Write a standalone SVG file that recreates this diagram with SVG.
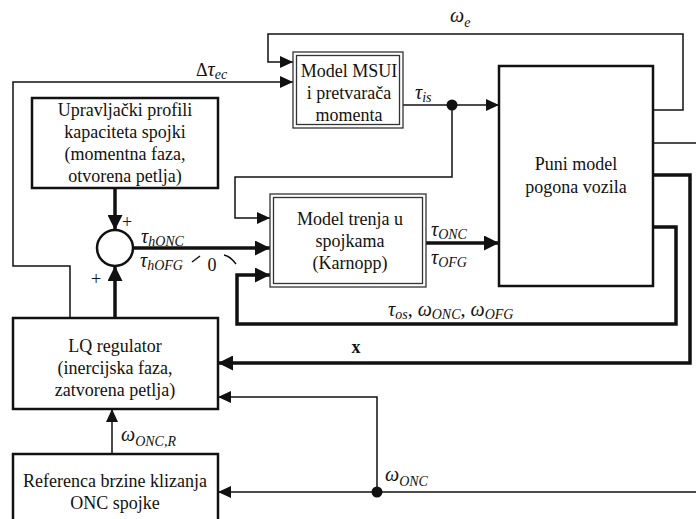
<svg xmlns="http://www.w3.org/2000/svg" width="696" height="519" viewBox="0 0 696 519">
<style>
text{font-family:"Liberation Serif","Times New Roman",serif;font-size:18px;fill:#111}
.c{text-anchor:middle}
.i{font-style:italic;font-size:20px}
.sub{font-size:14px;font-style:italic}
.thin{fill:none;stroke:#111;stroke-width:1.5}
.thick{fill:none;stroke:#111;stroke-width:3.5}
.box{fill:#fff;stroke:#111;stroke-width:2.5}
.dbl{fill:#fff;stroke:#333;stroke-width:1.3}
</style>
<defs>
<marker id="a" markerUnits="userSpaceOnUse" markerWidth="13" markerHeight="12" refX="13" refY="6" orient="auto"><path d="M0,0 L13,6 L0,12 z" fill="#111"/></marker>
<marker id="A" markerUnits="userSpaceOnUse" markerWidth="15" markerHeight="15" refX="15" refY="7.5" orient="auto"><path d="M0,0 L15,7.5 L0,15 z" fill="#111"/></marker>
</defs>
<rect width="696" height="519" fill="#fff"/>
<g id="connectors">
<path class="thin" d="M653,110 H683 V34 H268 V62 H293" marker-end="url(#a)"/>
<path class="thin" d="M70,318 V266 H13 V82 H293" marker-end="url(#a)"/>
<path class="thin" d="M403,105 H499" marker-end="url(#a)"/>
<path class="thin" d="M452,105 V177 H235 V218 H270" marker-end="url(#a)"/>
<path class="thick" d="M115,188 V230" marker-end="url(#A)"/>
<path class="thick" d="M115,318 V266" marker-end="url(#A)"/>
<path class="thick" d="M133,248 H270" marker-end="url(#A)"/>
<path class="thick" d="M653,227 H676 V324 H237 V275 H270" marker-end="url(#A)"/>
<path class="thick" d="M426,243 H499" marker-end="url(#A)"/>
<path class="thick" d="M653,175 H690 V363 H218" marker-end="url(#A)"/>
<path class="thin" d="M653,143 H696"/>
<path class="thin" d="M696,492 H218" marker-end="url(#a)"/>
<path class="thin" d="M377,492 V397 H218" marker-end="url(#a)"/>
<path class="thin" d="M112,454 V409" marker-end="url(#a)"/>
<circle cx="452" cy="105" r="5.5" fill="#111"/>
<circle cx="377" cy="492" r="5.5" fill="#111"/>
<path class="thin" d="M192,262 L200,256 M224,255 Q230,256 236,264"/>
</g>
<g id="labels">
<text x="450" y="22" class="i">ω<tspan class="sub" dy="5">e</tspan></text>
<text x="196" y="76" font-size="20">Δ<tspan class="i">τ</tspan><tspan class="sub" dy="3">ec</tspan></text>
<text x="415" y="99" class="i">τ<tspan class="sub" dy="3">is</tspan></text>
<text x="141" y="243" class="i">τ<tspan class="sub" dy="3">hONC</tspan></text>
<text x="140" y="267" class="i">τ<tspan class="sub" dy="3">hOFG</tspan></text>
<text x="212" y="271" class="c" font-size="21">0</text>
<text x="122" y="228" font-size="19">+</text>
<text x="91" y="285" font-size="19">+</text>
<text x="431" y="236" class="i">τ<tspan class="sub" dy="3">ONC</tspan></text>
<text x="431" y="264" class="i">τ<tspan class="sub" dy="3">OFG</tspan></text>
<text x="388" y="316" class="i">τ<tspan class="sub" dy="3">os</tspan><tspan dy="-3" font-style="normal">, </tspan>ω<tspan class="sub" dy="3">ONC</tspan><tspan dy="-3" font-style="normal">, </tspan>ω<tspan class="sub" dy="3">OFG</tspan></text>
<text x="356" y="353" class="c" font-weight="bold">x</text>
<text x="121" y="441" class="i">ω<tspan class="sub" dy="5">ONC,R</tspan></text>
<text x="385" y="481" class="i">ω<tspan class="sub" dy="5">ONC</tspan></text>
</g>
<g id="msui">
<rect class="dbl" x="293" y="52" width="110" height="76"/>
<rect class="dbl" x="296.5" y="55.5" width="103" height="69"/>
<text x="349" y="77" class="c">Model MSUI</text>
<text x="349" y="99" class="c">i pretvarača</text>
<text x="349" y="121" class="c">momenta</text>
</g>
<g id="puni">
<rect class="box" x="499" y="66" width="154" height="220"/>
<text x="576" y="170" class="c">Puni model</text>
<text x="576" y="193" class="c">pogona vozila</text>
</g>
<g id="upravljacki">
<rect class="box" x="32" y="98" width="186" height="90"/>
<text x="125" y="116" class="c">Upravljački profili</text>
<text x="125" y="138" class="c">kapaciteta spojki</text>
<text x="125" y="160" class="c">(momentna faza,</text>
<text x="125" y="182" class="c">otvorena petlja)</text>
</g>
<g id="sum">
<circle cx="115" cy="248" r="18" fill="#fff" stroke="#111" stroke-width="2.5"/>
</g>
<g id="karnopp">
<rect class="dbl" x="270" y="194" width="156" height="93"/>
<rect class="dbl" x="273.5" y="197.5" width="149" height="86"/>
<text x="350" y="225" class="c">Model trenja u</text>
<text x="350" y="247" class="c">spojkama</text>
<text x="350" y="269" class="c">(Karnopp)</text>
</g>
<g id="lq">
<rect class="box" x="13" y="318" width="205" height="91" stroke-width="2"/>
<text x="115" y="352" class="c">LQ regulator</text>
<text x="115" y="374" class="c">(inercijska faza,</text>
<text x="115" y="396" class="c">zatvorena petlja)</text>
</g>
<g id="referenca">
<rect class="box" x="13" y="454" width="205" height="80"/>
<text x="115" y="487" class="c">Referenca brzine klizanja</text>
<text x="115" y="509" class="c">ONC spojke</text>
</g>
</svg>
